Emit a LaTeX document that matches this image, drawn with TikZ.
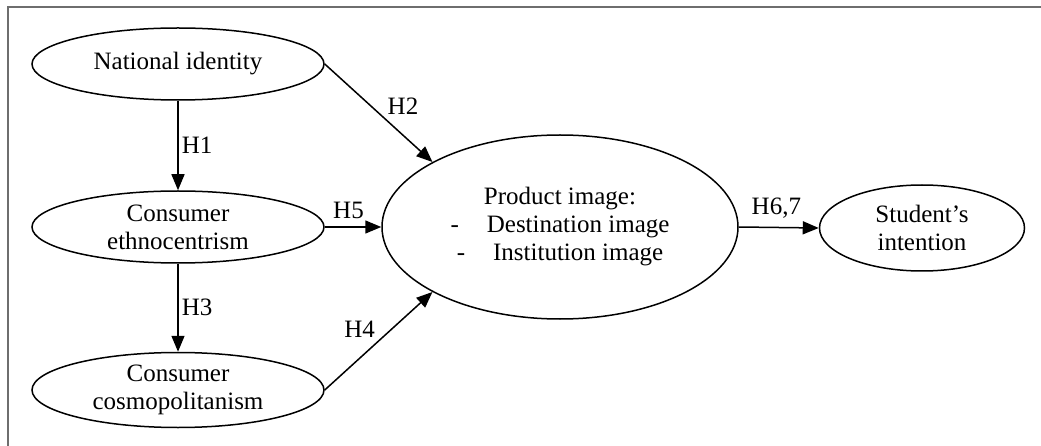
\documentclass[tikz,border=0pt]{standalone}
\usepackage{fontspec}
\setmainfont{Liberation Serif}
\usetikzlibrary{shapes.geometric,arrows.meta}
\begin{document}
\begin{tikzpicture}[x=1pt,y=-1pt,
  construct/.style={ellipse,draw,line width=1.5pt,inner sep=0pt,align=center,
    font=\fontsize{25}{28}\selectfont},
  arr/.style={line width=1.5pt,-{Triangle[length=16pt,width=13pt]}},
  lbl/.style={font=\fontsize{25}{28}\selectfont,inner sep=3pt}]
\useasboundingbox (0,0) rectangle (1041,446);
\draw[line width=2pt,color={rgb,255:red,110;green,110;blue,110}] (1041,7.5) -- (8,7.5) -- (8,446);
\node[construct,minimum width=292pt,minimum height=72pt] (nat) at (178,64) {National identity};
\node[construct,minimum width=292pt,minimum height=72pt] (eth) at (178,227) {Consumer\\ethnocentrism};
\node[construct,minimum width=292pt,minimum height=75pt] (cos) at (178,390) {Consumer\\cosmopolitanism};
\node[construct,minimum width=356pt,minimum height=184pt] (prod) at (560,227)
  {Product image:\\-\hspace{28pt}Destination image\\-\hspace{28pt}Institution image};
\node[construct,minimum width=205pt,minimum height=86pt] (stu) at (922,228) {Student’s\\intention};
\draw[arr] (nat) -- node[lbl,right] {H1} (eth);
\draw[arr] (eth) -- node[lbl,right] {H3} (cos);
\draw[arr] (nat.east) -- node[lbl,above right,pos=0.55] {H2} (prod.153);
\draw[arr] (eth.east) -- node[lbl,above=5pt,pos=0.42] {H5} (prod.west);
\draw[arr] (cos.east) -- node[lbl,above left] {H4} (prod.207);
\draw[arr] (prod.east) -- node[lbl,above=5pt,pos=0.47] {H6,7} (stu.west);
\end{tikzpicture}
\end{document}
